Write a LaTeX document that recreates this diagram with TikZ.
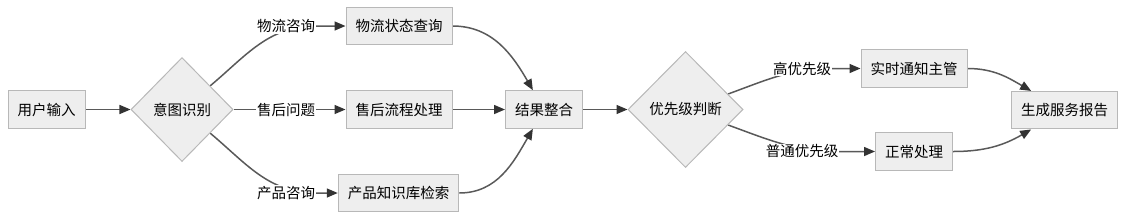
\documentclass[tikz,border=0pt]{standalone}
\usepackage{fontspec}
\newfontfamily\cjk{Noto Sans CJK SC}
\usepackage{xcolor}
\definecolor{boxfill}{HTML}{EEEEEE}
\definecolor{boxline}{HTML}{B8B8B8}
\definecolor{edgeline}{HTML}{595959}
\definecolor{tipfill}{HTML}{333333}
\usepackage{tikz}
\usetikzlibrary{positioning,arrows.meta,shapes.geometric,backgrounds}

\begin{document}
\begin{tikzpicture}[
      x=1pt, y=1pt, on grid,
      box/.style={rectangle, draw=boxline, line width=1pt, fill=boxfill,
                  minimum height=37.5pt, inner xsep=9.5pt, inner ysep=0pt,
                  font=\cjk\fontsize{14.5}{17}\selectfont},
      dec/.style={diamond, draw=boxline, line width=1pt, fill=boxfill, inner sep=0pt,
                  font=\cjk\fontsize{14.5}{17}\selectfont},
      lbl/.style={rectangle, fill=white, inner sep=1pt,
                  font=\cjk\fontsize{14.5}{17}\selectfont},
      arr/.style={draw=edgeline, line width=1.5pt,
                  -{Triangle[length=11pt,width=9pt,fill=tipfill,color=tipfill]}},
    ]
    \useasboundingbox (0,0) rectangle (1129,-218);

    \node[box] (in) at (46.5,-109.5) {用户输入};
    \node[dec, minimum width=102pt, minimum height=104pt, right=135.5pt of in] (d1) {意图识别};
    \node[lbl, right=104pt of d1] (l2) {售后问题};
    \node[lbl, above=83.5pt of l2] (l1) {物流咨询};
    \node[lbl, below=83.5pt of l2] (l3) {产品咨询};
    \node[box, right=113pt of l2] (b2) {售后流程处理};
    \node[box, above=83.5pt of b2] (b1) {物流状态查询};
    \node[box, below=83.5pt of b2, xshift=-0.5pt] (b3) {产品知识库检索};
    \node[box, right=145pt of b2] (m) {结果整合};
    \node[dec, minimum width=115pt, minimum height=116pt, right=141.5pt of m] (d2) {优先级判断};
    \node[lbl, above right=41pt and 116.5pt of d2] (l4) {高优先级};
    \node[lbl, below right=42pt and 116.5pt of d2] (l5) {普通优先级};
    \node[box, right=112pt of l4] (b4) {实时通知主管};
    \node[box, right=112pt of l5] (b5) {正常处理};
    \node[box, below right=41.7pt and 150.5pt of b4] (out) {生成服务报告};

    \begin{scope}[on background layer]
      \draw[arr] (in) -- (d1);
      \draw[arr] (d1) to[out=40, in=180] (l1.east) -- (b1);
      \draw[arr] (d1) -- (b2);
      \draw[arr] (d1) to[out=-40, in=180] (l3.east) -- (b3);
      \draw[arr] (b1.east) to[out=0, in=120] (m);
      \draw[arr] (b2) -- (m);
      \draw[arr] (b3.east) to[out=0, in=240] (m);
      \draw[arr] (m) -- (d2);
      \draw[arr] (d2) to[out=20, in=180] (l4.east) -- (b4);
      \draw[arr] (d2) to[out=-20, in=180] (l5.east) -- (b5);
      \draw[arr] (b4.east) to[out=0, in=150] (out);
      \draw[arr] (b5.east) to[out=0, in=210] (out);
    \end{scope}
  \end{tikzpicture}
\end{document}
